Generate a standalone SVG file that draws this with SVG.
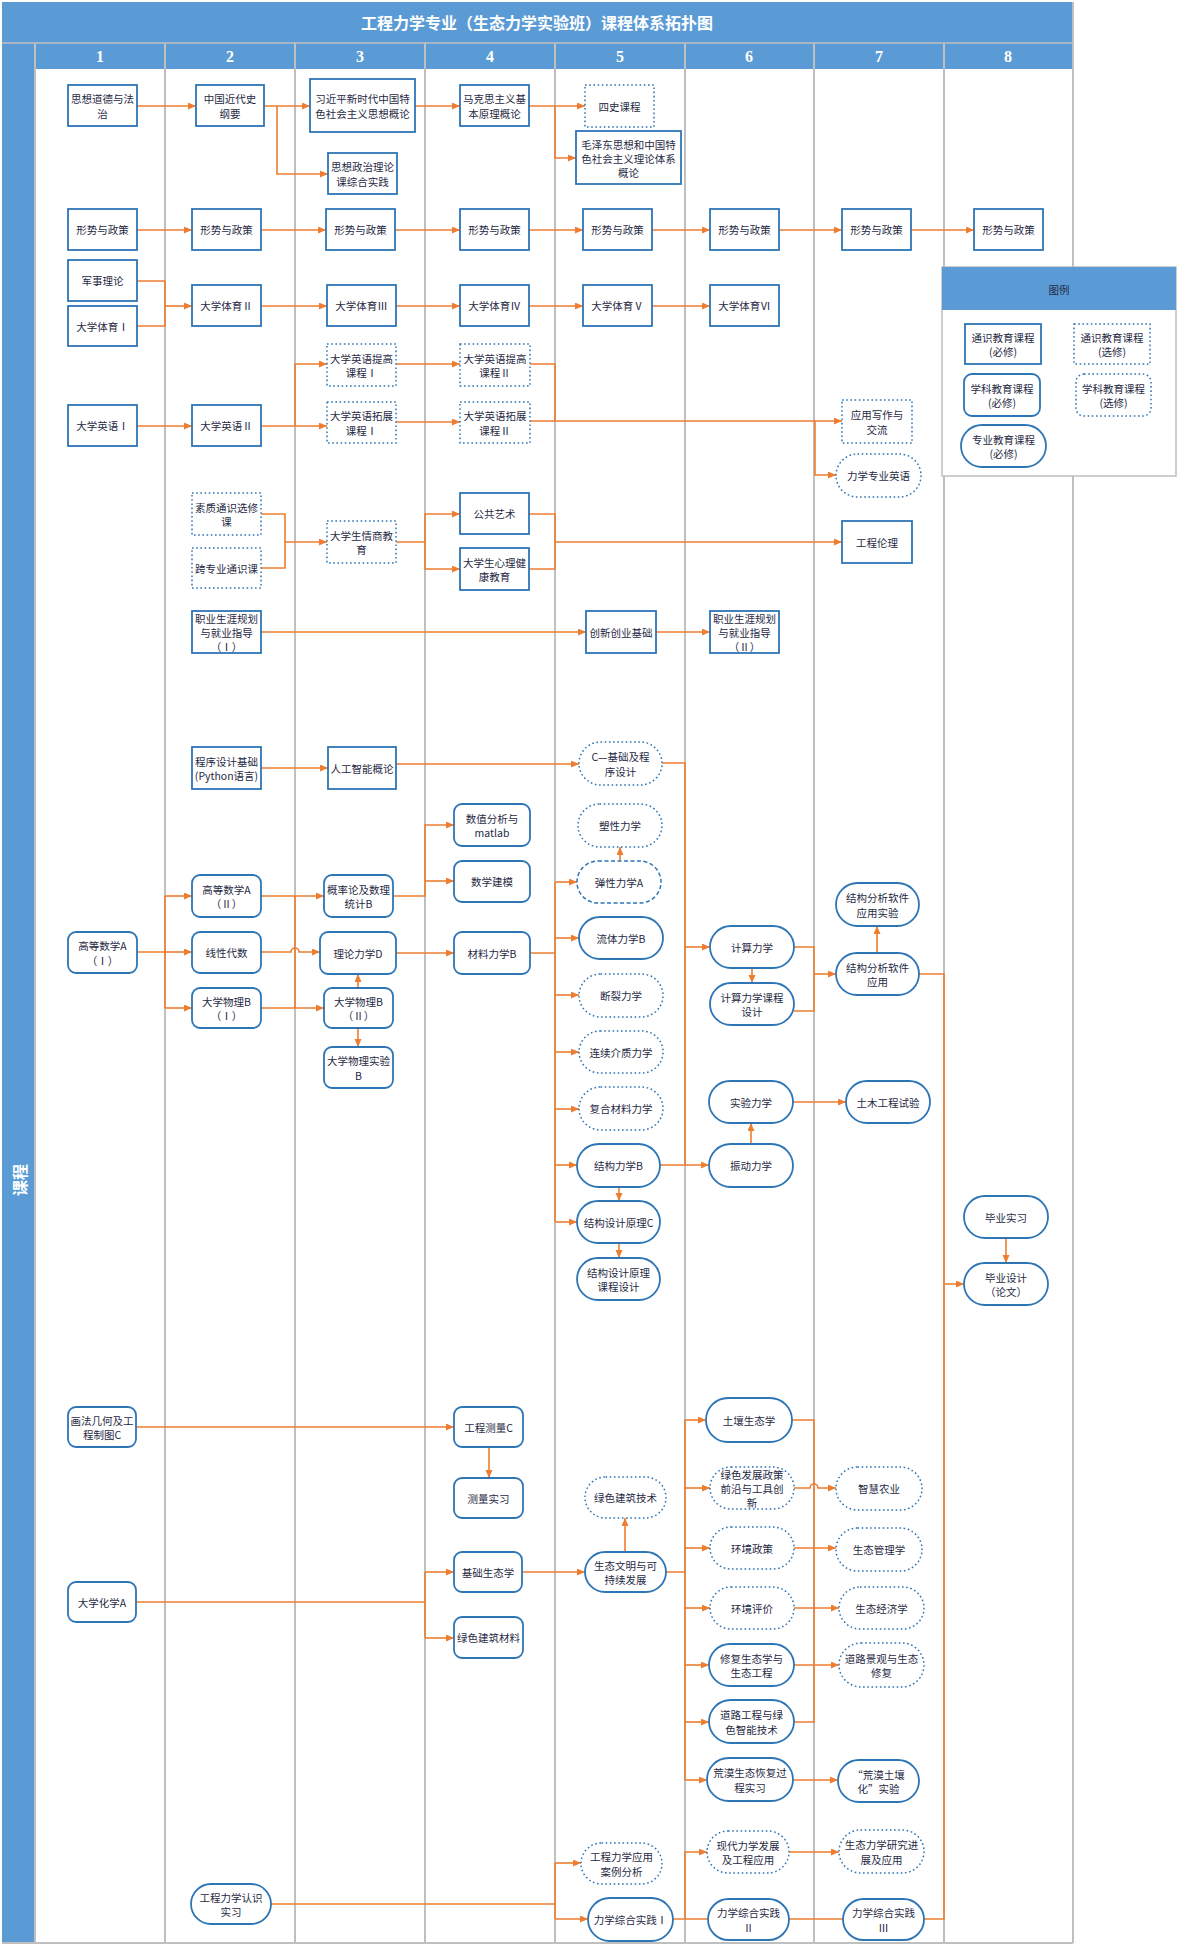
<svg xmlns="http://www.w3.org/2000/svg" width="1180" height="1950" viewBox="0 0 1180 1950">
<style>
.bg{fill:#fff}
.blue{fill:#5B9BD5}
.grid{stroke:#BFBFBF;stroke-width:2;fill:none}
.n{fill:#fff;stroke:#2E75B6;stroke-width:1.8}
.d{stroke-dasharray:1.6 2.6;stroke-width:1.5}
.ds{stroke-dasharray:4 2.5;stroke-width:1.5}
.t{font-family:"Noto Sans CJK SC","Noto Sans",sans-serif;font-size:10.5px;fill:#1F2A44;text-anchor:middle;dominant-baseline:central}
.c{fill:none;stroke:#ED7D31;stroke-width:1.6}
.hd{font-family:"Liberation Serif",serif;font-weight:bold;font-size:16px;fill:#fff;text-anchor:middle;dominant-baseline:central}
.ti{font-family:"Noto Sans CJK SC",sans-serif;font-weight:bold;font-size:16px;fill:#fff;text-anchor:middle;dominant-baseline:central}
</style>
<defs>
<marker id="a" markerUnits="userSpaceOnUse" markerWidth="9" markerHeight="8" refX="8" refY="3.5" orient="auto"><path d="M0,0 L8,3.5 L0,7 z" fill="#ED7D31"/></marker>
</defs>
<rect class="bg" x="0" y="0" width="1180" height="1950"/>
<g id="frame">
<rect class="blue" x="2" y="2" width="1071" height="41"/>
<text class="ti" x="537" y="22">工程力学专业（生态力学实验班）课程体系拓扑图</text>
<rect class="blue" x="2" y="43" width="33" height="1900"/>
<text class="ti" transform="translate(19,1180) rotate(-90)" x="0" y="0">课程</text>
<rect class="blue" x="35" y="43" width="1038" height="26"/>
<line x1="2" y1="43" x2="1073" y2="43" stroke="#BFBFBF" stroke-width="1.5"/>
<g class="grid">
<path d="M35,43V1943M165,43V1943M295,43V1943M425,43V1943M555,43V1943M685,43V1943M814,43V1943M944,43V1943M1073,2V1943M2,1943H1073"/>
</g>
<text class="hd" x="100" y="56">1</text>
<text class="hd" x="230" y="56">2</text>
<text class="hd" x="360" y="56">3</text>
<text class="hd" x="490" y="56">4</text>
<text class="hd" x="620" y="56">5</text>
<text class="hd" x="749" y="56">6</text>
<text class="hd" x="879" y="56">7</text>
<text class="hd" x="1008" y="56">8</text>
</g>
<g id="connectors" class="c">
<path d="M137,106H196" marker-end="url(#a)"/>
<path d="M264,106H310" marker-end="url(#a)"/>
<path d="M277,106V174H328" marker-end="url(#a)"/>
<path d="M415,106H460" marker-end="url(#a)"/>
<path d="M529,106H585" marker-end="url(#a)"/>
<path d="M555,106V158H576" marker-end="url(#a)"/>
<path d="M137,230H192" marker-end="url(#a)"/>
<path d="M261,230H326" marker-end="url(#a)"/>
<path d="M395,230H460" marker-end="url(#a)"/>
<path d="M529,230H583" marker-end="url(#a)"/>
<path d="M652,230H710" marker-end="url(#a)"/>
<path d="M779,230H842" marker-end="url(#a)"/>
<path d="M911,230H974" marker-end="url(#a)"/>
<path d="M137,281H165V326H137"/>
<path d="M165,306H192" marker-end="url(#a)"/>
<path d="M261,306H327" marker-end="url(#a)"/>
<path d="M396,306H460" marker-end="url(#a)"/>
<path d="M529,306H583" marker-end="url(#a)"/>
<path d="M652,306H710" marker-end="url(#a)"/>
<path d="M137,426H192" marker-end="url(#a)"/>
<path d="M261,426H327" marker-end="url(#a)"/>
<path d="M295,426V364H327" marker-end="url(#a)"/>
<path d="M396,364H460" marker-end="url(#a)"/>
<path d="M396,422H460" marker-end="url(#a)"/>
<path d="M530,364H555V421"/>
<path d="M530,421H842" marker-end="url(#a)"/>
<path d="M815,421V475H836" marker-end="url(#a)"/>
<path d="M261,514H285V568H261"/>
<path d="M285,542H327" marker-end="url(#a)"/>
<path d="M396,542H425V514H460" marker-end="url(#a)"/>
<path d="M425,542V569H460" marker-end="url(#a)"/>
<path d="M529,514H555V569H529"/>
<path d="M555,542H842" marker-end="url(#a)"/>
<path d="M261,632H586" marker-end="url(#a)"/>
<path d="M656,632H710" marker-end="url(#a)"/>
<path d="M261,768H328" marker-end="url(#a)"/>
<path d="M396,764H579" marker-end="url(#a)"/>
<path d="M662,763H685V1165"/>
<path d="M685,947H710" marker-end="url(#a)"/>
<path d="M660,1165H709" marker-end="url(#a)"/>
<path d="M137,952H165M165,896V1008"/>
<path d="M165,896H192" marker-end="url(#a)"/>
<path d="M165,952H192" marker-end="url(#a)"/>
<path d="M165,1008H192" marker-end="url(#a)"/>
<path d="M261,896H324" marker-end="url(#a)"/>
<path d="M261,952H291a4,4 0 0 1 8,0H320" marker-end="url(#a)"/>
<path d="M261,1008H324" marker-end="url(#a)"/>
<path d="M295,896V1008"/>
<path d="M358,988V974" marker-end="url(#a)"/>
<path d="M358,1028V1047" marker-end="url(#a)"/>
<path d="M393,896H425V825H454" marker-end="url(#a)"/>
<path d="M425,881H454" marker-end="url(#a)"/>
<path d="M396,953H454" marker-end="url(#a)"/>
<path d="M530,953H555M555,882V1222"/>
<path d="M555,882H577" marker-end="url(#a)"/>
<path d="M555,938H579" marker-end="url(#a)"/>
<path d="M555,995H579" marker-end="url(#a)"/>
<path d="M555,1052H579" marker-end="url(#a)"/>
<path d="M555,1109H579" marker-end="url(#a)"/>
<path d="M555,1165H577" marker-end="url(#a)"/>
<path d="M555,1222H577" marker-end="url(#a)"/>
<path d="M620,861V847" marker-end="url(#a)"/>
<path d="M619,1187V1201" marker-end="url(#a)"/>
<path d="M619,1243V1258" marker-end="url(#a)"/>
<path d="M752,968V983" marker-end="url(#a)"/>
<path d="M751,1144V1123" marker-end="url(#a)"/>
<path d="M794,947H814V1011H794"/>
<path d="M814,974H836" marker-end="url(#a)"/>
<path d="M793,1102H846" marker-end="url(#a)"/>
<path d="M877,953V926" marker-end="url(#a)"/>
<path d="M919,974H944V1919H924"/>
<path d="M944,1284H964" marker-end="url(#a)"/>
<path d="M1006,1238V1263" marker-end="url(#a)"/>
<path d="M136,1427H454" marker-end="url(#a)"/>
<path d="M489,1447V1478" marker-end="url(#a)"/>
<path d="M136,1602H425M425,1572V1638"/>
<path d="M425,1572H454" marker-end="url(#a)"/>
<path d="M425,1638H454" marker-end="url(#a)"/>
<path d="M522,1572H585" marker-end="url(#a)"/>
<path d="M625,1552V1518" marker-end="url(#a)"/>
<path d="M666,1572H685M685,1420V1780"/>
<path d="M685,1420H706" marker-end="url(#a)"/>
<path d="M685,1488H710" marker-end="url(#a)"/>
<path d="M685,1548H710" marker-end="url(#a)"/>
<path d="M685,1608H710" marker-end="url(#a)"/>
<path d="M685,1665H709" marker-end="url(#a)"/>
<path d="M685,1722H709" marker-end="url(#a)"/>
<path d="M685,1780H707" marker-end="url(#a)"/>
<path d="M792,1420H814V1722H794"/>
<path d="M794,1488H810a4,4 0 0 1 8,0H836" marker-end="url(#a)"/>
<path d="M794,1548H836" marker-end="url(#a)"/>
<path d="M794,1608H839" marker-end="url(#a)"/>
<path d="M794,1665H839" marker-end="url(#a)"/>
<path d="M793,1780H838" marker-end="url(#a)"/>
<path d="M271,1904H555M555,1863V1919"/>
<path d="M555,1863H581" marker-end="url(#a)"/>
<path d="M555,1919H588" marker-end="url(#a)"/>
<path d="M673,1919H708"/>
<path d="M685,1919V1852H707" marker-end="url(#a)"/>
<path d="M789,1919H843"/>
<path d="M789,1852H839" marker-end="url(#a)"/>
</g>
<g id="nodes">
<g id="n-sxdd"><rect class="n" x="68" y="85" width="69" height="41"/><text class="t" y="98.3"><tspan x="102.5">思想道德与法</tspan><tspan x="102.5" dy="14.5">治</tspan></text></g>
<g id="n-zgjds"><rect class="n" x="196" y="85" width="68" height="41"/><text class="t" y="98.3"><tspan x="230">中国近代史</tspan><tspan x="230" dy="14.5">纲要</tspan></text></g>
<g id="n-xjp"><rect class="n" x="310" y="79" width="105" height="53"/><text class="t" y="98.3"><tspan x="362.5">习近平新时代中国特</tspan><tspan x="362.5" dy="14.5">色社会主义思想概论</tspan></text></g>
<g id="n-szzz"><rect class="n" x="328" y="153" width="69" height="41"/><text class="t" y="166.3"><tspan x="362.5">思想政治理论</tspan><tspan x="362.5" dy="14.5">课综合实践</tspan></text></g>
<g id="n-mks"><rect class="n" x="460" y="85" width="69" height="41"/><text class="t" y="98.3"><tspan x="494.5">马克思主义基</tspan><tspan x="494.5" dy="14.5">本原理概论</tspan></text></g>
<g id="n-sishi"><rect class="n d" x="585" y="85" width="69" height="42"/><text class="t" x="619.5" y="106">四史课程</text></g>
<g id="n-mzd"><rect class="n" x="576" y="131" width="105" height="53"/><text class="t" y="143.5"><tspan x="628.5">毛泽东思想和中国特</tspan><tspan x="628.5" dy="14">色社会主义理论体系</tspan><tspan x="628.5" dy="14">概论</tspan></text></g>
<g id="n-xs1"><rect class="n" x="68" y="209" width="69" height="41"/><text class="t" x="102.5" y="229.5">形势与政策</text></g>
<g id="n-xs2"><rect class="n" x="192" y="209" width="69" height="41"/><text class="t" x="226.5" y="229.5">形势与政策</text></g>
<g id="n-xs3"><rect class="n" x="326" y="209" width="69" height="41"/><text class="t" x="360.5" y="229.5">形势与政策</text></g>
<g id="n-xs4"><rect class="n" x="460" y="209" width="69" height="41"/><text class="t" x="494.5" y="229.5">形势与政策</text></g>
<g id="n-xs5"><rect class="n" x="583" y="209" width="69" height="41"/><text class="t" x="617.5" y="229.5">形势与政策</text></g>
<g id="n-xs6"><rect class="n" x="710" y="209" width="69" height="41"/><text class="t" x="744.5" y="229.5">形势与政策</text></g>
<g id="n-xs7"><rect class="n" x="842" y="209" width="69" height="41"/><text class="t" x="876.5" y="229.5">形势与政策</text></g>
<g id="n-xs8"><rect class="n" x="974" y="209" width="69" height="41"/><text class="t" x="1008.5" y="229.5">形势与政策</text></g>
<g id="n-jsll"><rect class="n" x="68" y="260" width="69" height="41"/><text class="t" x="102.5" y="280.5">军事理论</text></g>
<g id="n-ty1"><rect class="n" x="68" y="306" width="69" height="40"/><text class="t" x="102.5" y="326">大学体育Ⅰ</text></g>
<g id="n-ty2"><rect class="n" x="192" y="285" width="69" height="41"/><text class="t" x="226.5" y="305.5">大学体育Ⅱ</text></g>
<g id="n-ty3"><rect class="n" x="327" y="285" width="69" height="41"/><text class="t" x="361.5" y="305.5">大学体育Ⅲ</text></g>
<g id="n-ty4"><rect class="n" x="460" y="285" width="69" height="41"/><text class="t" x="494.5" y="305.5">大学体育Ⅳ</text></g>
<g id="n-ty5"><rect class="n" x="583" y="285" width="69" height="41"/><text class="t" x="617.5" y="305.5">大学体育Ⅴ</text></g>
<g id="n-ty6"><rect class="n" x="710" y="285" width="69" height="41"/><text class="t" x="744.5" y="305.5">大学体育Ⅵ</text></g>
<g id="n-yy1"><rect class="n" x="68" y="405" width="69" height="41"/><text class="t" x="102.5" y="425.5">大学英语Ⅰ</text></g>
<g id="n-yy2"><rect class="n" x="192" y="405" width="69" height="41"/><text class="t" x="226.5" y="425.5">大学英语Ⅱ</text></g>
<g id="n-tg1"><rect class="n d" x="327" y="344" width="69" height="42"/><text class="t" y="357.8"><tspan x="361.5">大学英语提高</tspan><tspan x="361.5" dy="14.5">课程Ⅰ</tspan></text></g>
<g id="n-tz1"><rect class="n d" x="327" y="402" width="69" height="41"/><text class="t" y="415.3"><tspan x="361.5">大学英语拓展</tspan><tspan x="361.5" dy="14.5">课程Ⅰ</tspan></text></g>
<g id="n-tg2"><rect class="n d" x="460" y="344" width="70" height="42"/><text class="t" y="357.8"><tspan x="495">大学英语提高</tspan><tspan x="495" dy="14.5">课程Ⅱ</tspan></text></g>
<g id="n-tz2"><rect class="n d" x="460" y="402" width="70" height="41"/><text class="t" y="415.3"><tspan x="495">大学英语拓展</tspan><tspan x="495" dy="14.5">课程Ⅱ</tspan></text></g>
<g id="n-yyxz"><rect class="n d" x="842" y="400" width="70" height="43"/><text class="t" y="414.3"><tspan x="877">应用写作与</tspan><tspan x="877" dy="14.5">交流</tspan></text></g>
<g id="n-lxyy"><rect class="n d" x="836" y="454" width="85" height="43" rx="21.5"/><text class="t" x="878.5" y="475.5">力学专业英语</text></g>
<g id="n-szts"><rect class="n d" x="192" y="493" width="69" height="42"/><text class="t" y="506.8"><tspan x="226.5">素质通识选修</tspan><tspan x="226.5" dy="14.5">课</tspan></text></g>
<g id="n-kzy"><rect class="n d" x="192" y="548" width="69" height="40"/><text class="t" x="226.5" y="568">跨专业通识课</text></g>
<g id="n-qs"><rect class="n d" x="327" y="521" width="69" height="42"/><text class="t" y="534.8"><tspan x="361.5">大学生情商教</tspan><tspan x="361.5" dy="14.5">育</tspan></text></g>
<g id="n-ggys"><rect class="n" x="460" y="493" width="69" height="41"/><text class="t" x="494.5" y="513.5">公共艺术</text></g>
<g id="n-xljk"><rect class="n" x="460" y="548" width="69" height="42"/><text class="t" y="561.8"><tspan x="494.5">大学生心理健</tspan><tspan x="494.5" dy="14.5">康教育</tspan></text></g>
<g id="n-gcll"><rect class="n" x="842" y="521" width="70" height="42"/><text class="t" x="877" y="542">工程伦理</text></g>
<g id="n-zy1"><rect class="n" x="192" y="611" width="69" height="42"/><text class="t" y="618"><tspan x="226.5">职业生涯规划</tspan><tspan x="226.5" dy="14">与就业指导</tspan><tspan x="226.5" dy="14">（Ⅰ）</tspan></text></g>
<g id="n-cxcy"><rect class="n" x="586" y="611" width="70" height="42"/><text class="t" x="621" y="632">创新创业基础</text></g>
<g id="n-zy2"><rect class="n" x="710" y="611" width="69" height="42"/><text class="t" y="618"><tspan x="744.5">职业生涯规划</tspan><tspan x="744.5" dy="14">与就业指导</tspan><tspan x="744.5" dy="14">（Ⅱ）</tspan></text></g>
<g id="n-cxsj"><rect class="n" x="192" y="747" width="69" height="42"/><text class="t" y="760.8"><tspan x="226.5">程序设计基础</tspan><tspan x="226.5" dy="14.5">(Python语言)</tspan></text></g>
<g id="n-rgzn"><rect class="n" x="328" y="747" width="68" height="42"/><text class="t" x="362" y="768">人工智能概论</text></g>
<g id="n-gs1"><rect class="n" x="68" y="932" width="69" height="41" rx="8"/><text class="t" y="945.3"><tspan x="102.5">高等数学A</tspan><tspan x="102.5" dy="14.5">（Ⅰ）</tspan></text></g>
<g id="n-gs2"><rect class="n" x="192" y="875" width="69" height="42" rx="8"/><text class="t" y="888.8"><tspan x="226.5">高等数学A</tspan><tspan x="226.5" dy="14.5">（Ⅱ）</tspan></text></g>
<g id="n-xxds"><rect class="n" x="192" y="932" width="69" height="41" rx="8"/><text class="t" x="226.5" y="952.5">线性代数</text></g>
<g id="n-wl1"><rect class="n" x="192" y="988" width="69" height="40" rx="8"/><text class="t" y="1000.8"><tspan x="226.5">大学物理B</tspan><tspan x="226.5" dy="14.5">（Ⅰ）</tspan></text></g>
<g id="n-gll"><rect class="n" x="324" y="875" width="69" height="42" rx="8"/><text class="t" y="888.8"><tspan x="358.5">概率论及数理</tspan><tspan x="358.5" dy="14.5">统计B</tspan></text></g>
<g id="n-lllx"><rect class="n" x="320" y="932" width="76" height="42" rx="8"/><text class="t" x="358" y="953">理论力学D</text></g>
<g id="n-wl2"><rect class="n" x="324" y="988" width="69" height="40" rx="8"/><text class="t" y="1000.8"><tspan x="358.5">大学物理B</tspan><tspan x="358.5" dy="14.5">（Ⅱ）</tspan></text></g>
<g id="n-wlsy"><rect class="n" x="324" y="1047" width="69" height="41" rx="8"/><text class="t" y="1060.3"><tspan x="358.5">大学物理实验</tspan><tspan x="358.5" dy="14.5">B</tspan></text></g>
<g id="n-szfx"><rect class="n" x="454" y="804" width="76" height="42" rx="8"/><text class="t" y="817.8"><tspan x="492">数值分析与</tspan><tspan x="492" dy="14.5">matlab</tspan></text></g>
<g id="n-sxjm"><rect class="n" x="454" y="861" width="76" height="41" rx="8"/><text class="t" x="492" y="881.5">数学建模</text></g>
<g id="n-cllx"><rect class="n" x="454" y="932" width="76" height="42" rx="8"/><text class="t" x="492" y="953">材料力学B</text></g>
<g id="n-cjc"><rect class="n d" x="579" y="742" width="83" height="43" rx="21.5"/><text class="t" y="756.3"><tspan x="620.5">C—基础及程</tspan><tspan x="620.5" dy="14.5">序设计</tspan></text></g>
<g id="n-sxlx"><rect class="n d" x="578" y="804" width="84" height="43" rx="21.5"/><text class="t" x="620" y="825.5">塑性力学</text></g>
<g id="n-txlx"><rect class="n ds" x="577" y="861" width="84" height="42" rx="21"/><text class="t" x="619" y="882">弹性力学A</text></g>
<g id="n-ltlx"><rect class="n" x="579" y="917" width="84" height="42" rx="21"/><text class="t" x="621" y="938">流体力学B</text></g>
<g id="n-dllx"><rect class="n d" x="579" y="974" width="84" height="43" rx="21.5"/><text class="t" x="621" y="995.5">断裂力学</text></g>
<g id="n-lxjz"><rect class="n d" x="579" y="1031" width="84" height="42" rx="21"/><text class="t" x="621" y="1052">连续介质力学</text></g>
<g id="n-fhcl"><rect class="n d" x="579" y="1087" width="84" height="43" rx="21.5"/><text class="t" x="621" y="1108.5">复合材料力学</text></g>
<g id="n-jglx"><rect class="n" x="577" y="1144" width="83" height="43" rx="21.5"/><text class="t" x="618.5" y="1165.5">结构力学B</text></g>
<g id="n-jgsj"><rect class="n" x="577" y="1201" width="83" height="42" rx="21"/><text class="t" x="618.5" y="1222">结构设计原理C</text></g>
<g id="n-jgkc"><rect class="n" x="577" y="1258" width="83" height="42" rx="21"/><text class="t" y="1271.8"><tspan x="618.5">结构设计原理</tspan><tspan x="618.5" dy="14.5">课程设计</tspan></text></g>
<g id="n-jslx"><rect class="n" x="710" y="926" width="84" height="42" rx="21"/><text class="t" x="752" y="947">计算力学</text></g>
<g id="n-jskc"><rect class="n" x="710" y="983" width="84" height="42" rx="21"/><text class="t" y="996.8"><tspan x="752">计算力学课程</tspan><tspan x="752" dy="14.5">设计</tspan></text></g>
<g id="n-sylx"><rect class="n" x="709" y="1081" width="84" height="42" rx="21"/><text class="t" x="751" y="1102">实验力学</text></g>
<g id="n-zdlx"><rect class="n" x="709" y="1144" width="84" height="43" rx="21.5"/><text class="t" x="751" y="1165.5">振动力学</text></g>
<g id="n-rjsy"><rect class="n" x="836" y="883" width="83" height="43" rx="21.5"/><text class="t" y="897.3"><tspan x="877.5">结构分析软件</tspan><tspan x="877.5" dy="14.5">应用实验</tspan></text></g>
<g id="n-rjyy"><rect class="n" x="836" y="953" width="83" height="42" rx="21"/><text class="t" y="966.8"><tspan x="877.5">结构分析软件</tspan><tspan x="877.5" dy="14.5">应用</tspan></text></g>
<g id="n-tmsy"><rect class="n" x="846" y="1081" width="84" height="42" rx="21"/><text class="t" x="888" y="1102">土木工程试验</text></g>
<g id="n-bysx"><rect class="n" x="964" y="1196" width="84" height="42" rx="21"/><text class="t" x="1006" y="1217">毕业实习</text></g>
<g id="n-bysj"><rect class="n" x="964" y="1263" width="84" height="42" rx="21"/><text class="t" y="1276.8"><tspan x="1006">毕业设计</tspan><tspan x="1006" dy="14.5">（论文）</tspan></text></g>
<g id="n-hfjh"><rect class="n" x="68" y="1407" width="68" height="40" rx="8"/><text class="t" y="1419.8"><tspan x="102">画法几何及工</tspan><tspan x="102" dy="14.5">程制图C</tspan></text></g>
<g id="n-gccl"><rect class="n" x="454" y="1407" width="69" height="40" rx="8"/><text class="t" x="488.5" y="1427">工程测量C</text></g>
<g id="n-clsx"><rect class="n" x="454" y="1478" width="69" height="40" rx="8"/><text class="t" x="488.5" y="1498">测量实习</text></g>
<g id="n-jcst"><rect class="n" x="454" y="1552" width="68" height="40" rx="8"/><text class="t" x="488" y="1572">基础生态学</text></g>
<g id="n-dxhx"><rect class="n" x="68" y="1582" width="68" height="40" rx="8"/><text class="t" x="102" y="1602">大学化学A</text></g>
<g id="n-lscl"><rect class="n" x="454" y="1617" width="69" height="41" rx="8"/><text class="t" x="488.5" y="1637.5">绿色建筑材料</text></g>
<g id="n-lsjs"><rect class="n d" x="585" y="1477" width="81" height="41" rx="20.5"/><text class="t" x="625.5" y="1497.5">绿色建筑技术</text></g>
<g id="n-stwm"><rect class="n" x="585" y="1552" width="81" height="40" rx="20"/><text class="t" y="1564.8"><tspan x="625.5">生态文明与可</tspan><tspan x="625.5" dy="14.5">持续发展</tspan></text></g>
<g id="n-trst"><rect class="n" x="706" y="1398" width="86" height="44" rx="22"/><text class="t" x="749" y="1420">土壤生态学</text></g>
<g id="n-lszc"><rect class="n d" x="710" y="1467" width="84" height="42" rx="21"/><text class="t" y="1474"><tspan x="752">绿色发展政策</tspan><tspan x="752" dy="14">前沿与工具创</tspan><tspan x="752" dy="14">新</tspan></text></g>
<g id="n-hjzc"><rect class="n d" x="710" y="1527" width="84" height="42" rx="21"/><text class="t" x="752" y="1548">环境政策</text></g>
<g id="n-hjpj"><rect class="n d" x="710" y="1587" width="84" height="42" rx="21"/><text class="t" x="752" y="1608">环境评价</text></g>
<g id="n-xfst"><rect class="n" x="709" y="1644" width="85" height="42" rx="21"/><text class="t" y="1657.8"><tspan x="751.5">修复生态学与</tspan><tspan x="751.5" dy="14.5">生态工程</tspan></text></g>
<g id="n-dlgc"><rect class="n" x="709" y="1700" width="85" height="43" rx="21.5"/><text class="t" y="1714.3"><tspan x="751.5">道路工程与绿</tspan><tspan x="751.5" dy="14.5">色智能技术</tspan></text></g>
<g id="n-hmhf"><rect class="n" x="707" y="1758" width="86" height="43" rx="21.5"/><text class="t" y="1772.3"><tspan x="750">荒漠生态恢复过</tspan><tspan x="750" dy="14.5">程实习</tspan></text></g>
<g id="n-xdlx"><rect class="n d" x="707" y="1831" width="82" height="42" rx="21"/><text class="t" y="1844.8"><tspan x="748">现代力学发展</tspan><tspan x="748" dy="14.5">及工程应用</tspan></text></g>
<g id="n-zh2"><rect class="n" x="708" y="1899" width="81" height="41" rx="20.5"/><text class="t" y="1912.3"><tspan x="748.5">力学综合实践</tspan><tspan x="748.5" dy="14.5">Ⅱ</tspan></text></g>
<g id="n-zhny"><rect class="n d" x="836" y="1467" width="86" height="43" rx="21.5"/><text class="t" x="879" y="1488.5">智慧农业</text></g>
<g id="n-stgl"><rect class="n d" x="836" y="1528" width="86" height="43" rx="21.5"/><text class="t" x="879" y="1549.5">生态管理学</text></g>
<g id="n-stjj"><rect class="n d" x="839" y="1587" width="85" height="42" rx="21"/><text class="t" x="881.5" y="1608">生态经济学</text></g>
<g id="n-dljg"><rect class="n d" x="839" y="1643" width="85" height="44" rx="22"/><text class="t" y="1657.8"><tspan x="881.5">道路景观与生态</tspan><tspan x="881.5" dy="14.5">修复</tspan></text></g>
<g id="n-hmtr"><rect class="n" x="838" y="1760" width="81" height="42" rx="21"/><text class="t" y="1773.8"><tspan x="878.5">“荒漠土壤</tspan><tspan x="878.5" dy="14.5">化”实验</tspan></text></g>
<g id="n-stlx"><rect class="n d" x="839" y="1830" width="85" height="43" rx="21.5"/><text class="t" y="1844.3"><tspan x="881.5">生态力学研究进</tspan><tspan x="881.5" dy="14.5">展及应用</tspan></text></g>
<g id="n-zh3"><rect class="n" x="843" y="1899" width="81" height="41" rx="20.5"/><text class="t" y="1912.3"><tspan x="883.5">力学综合实践</tspan><tspan x="883.5" dy="14.5">Ⅲ</tspan></text></g>
<g id="n-rssx"><rect class="n" x="191" y="1884" width="80" height="40" rx="20"/><text class="t" y="1896.8"><tspan x="231">工程力学认识</tspan><tspan x="231" dy="14.5">实习</tspan></text></g>
<g id="n-yyal"><rect class="n d" x="581" y="1843" width="81" height="41" rx="20.5"/><text class="t" y="1856.3"><tspan x="621.5">工程力学应用</tspan><tspan x="621.5" dy="14.5">案例分析</tspan></text></g>
<g id="n-zh1"><rect class="n" x="588" y="1898" width="85" height="43" rx="21.5"/><text class="t" x="630.5" y="1919.5">力学综合实践Ⅰ</text></g>
</g>
<g id="legend">
<rect x="942" y="267" width="234" height="209" fill="#fff" stroke="#BFBFBF" stroke-width="1.5"/>
<rect class="blue" x="942" y="267" width="234" height="43"/>
<text class="t" x="1059" y="289">图例</text>
<g id="lg1"><rect class="n" x="965" y="324" width="76" height="40"/><text class="t" y="336.8"><tspan x="1003">通识教育课程</tspan><tspan x="1003" dy="14.5">(必修)</tspan></text></g>
<g id="lg2"><rect class="n d" x="1074" y="324" width="76" height="40"/><text class="t" y="336.8"><tspan x="1112">通识教育课程</tspan><tspan x="1112" dy="14.5">(选修)</tspan></text></g>
<g id="lg3"><rect class="n" x="964" y="374" width="76" height="42" rx="8"/><text class="t" y="387.8"><tspan x="1002">学科教育课程</tspan><tspan x="1002" dy="14.5">(必修)</tspan></text></g>
<g id="lg4"><rect class="n d" x="1076" y="374" width="75" height="42" rx="8"/><text class="t" y="387.8"><tspan x="1113.5">学科教育课程</tspan><tspan x="1113.5" dy="14.5">(选修)</tspan></text></g>
<g id="lg5"><rect class="n" x="961" y="425" width="85" height="42" rx="21"/><text class="t" y="438.8"><tspan x="1003.5">专业教育课程</tspan><tspan x="1003.5" dy="14.5">(必修)</tspan></text></g>
</g>
</svg>
